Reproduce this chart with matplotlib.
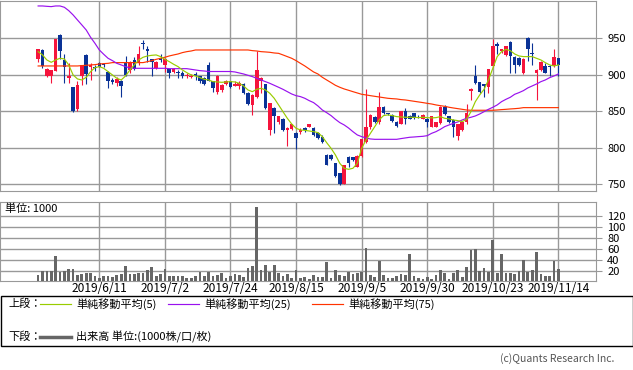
import numpy as np
import pandas as pd
import matplotlib
matplotlib.use("Agg")
import matplotlib.pyplot as plt
from matplotlib.patches import Rectangle

plt.rcParams['font.family'] = ['Noto Sans CJK JP', 'DejaVu Sans']

# -------------------------------
# data
# -------------------------------
holidays = ['2019-07-15', '2019-08-12', '2019-09-16', '2019-09-23',
            '2019-10-14', '2019-10-22', '2019-11-04']
dates = pd.bdate_range('2019-05-22', '2019-11-14')
dates = dates[~dates.isin(pd.to_datetime(holidays))]

open_ = [922, 934, 898, 898, 905, 955, 920, 896, 883, 853,
         899, 927, 911, 911, 916, 915, 904, 893, 889, 892,
         916, 907, 920, 916, 943, 935, 921, 909, 922, 914,
         908, 904, 904, 903, 898, 897, 901, 898, 895, 914,
         892, 876, 879, 887, 891, 885, 884, 888, 875, 859,
         869, 892, 887, 824, 855, 835, 840, 825, 826, 820,
         821, 827, 829, 827, 820, 815, 790, 790, 779, 765,
         751, 788, 787, 774, 789, 808, 828, 842, 835, 856,
         847, 845, 835, 833, 850, 844, 847, 844, 840, 840,
         829, 829, 834, 856, 843, 838, 816, 824, 835, 878,
         898, 890, 887, 883, 912, 942, 932, 927, 945, 925,
         923, 903, 950, 930, 902, 906, 912, 912, 912, 923]
high = [936, 935, 909, 907, 949, 956, 929, 916, 883, 892,
        914, 928, 916, 914, 918, 916, 905, 896, 897, 893,
        926, 919, 925, 939, 948, 939, 922, 919, 928, 923,
        908, 909, 906, 905, 902, 901, 904, 899, 897, 917,
        892, 900, 887, 893, 892, 891, 891, 889, 876, 873,
        932, 897, 888, 862, 856, 843, 841, 828, 833, 821,
        827, 828, 833, 829, 821, 818, 791, 791, 779, 766,
        777, 789, 788, 790, 812, 880, 846, 843, 876, 857,
        848, 846, 837, 850, 854, 845, 848, 845, 846, 841,
        843, 835, 857, 859, 844, 839, 833, 835, 860, 882,
        914, 890, 888, 908, 949, 945, 936, 940, 946, 926,
        924, 923, 952, 944, 908, 919, 916, 913, 935, 923]
low = [917, 909, 897, 889, 905, 921, 889, 889, 849, 851,
       886, 888, 893, 905, 910, 911, 882, 888, 884, 869,
       899, 902, 906, 914, 936, 917, 899, 908, 918, 904,
       895, 903, 895, 895, 895, 895, 893, 889, 886, 891,
       877, 874, 877, 886, 882, 884, 880, 874, 858, 845,
       868, 875, 853, 818, 820, 833, 823, 802, 825, 799,
       819, 822, 828, 816, 812, 807, 776, 783, 760, 749,
       750, 773, 782, 773, 788, 807, 826, 834, 833, 846,
       845, 836, 829, 832, 833, 839, 840, 841, 839, 829,
       828, 828, 832, 845, 834, 815, 811, 823, 833, 866,
       888, 875, 870, 875, 911, 929, 930, 926, 902, 902,
       912, 901, 919, 914, 865, 905, 902, 898, 911, 898]
close = [935, 912, 908, 907, 949, 933, 911, 898, 850, 886,
         913, 901, 914, 909, 911, 913, 891, 890, 894, 885,
         900, 918, 908, 929, 942, 933, 917, 918, 920, 921,
         903, 908, 902, 898, 900, 899, 898, 891, 888, 892,
         882, 899, 886, 892, 883, 888, 889, 875, 860, 872,
         907, 895, 854, 862, 844, 843, 824, 827, 832, 814,
         825, 824, 833, 818, 813, 808, 777, 784, 762, 751,
         777, 779, 783, 789, 812, 828, 845, 835, 856, 847,
         846, 837, 830, 850, 840, 840, 841, 843, 845, 835,
         843, 835, 856, 846, 835, 829, 833, 835, 847, 881,
         889, 876, 884, 908, 940, 940, 935, 939, 926, 914,
         914, 922, 936, 929, 907, 918, 903, 910, 924, 914]

ma5 = [931.7, 927.2, 920.3, 917.1, 920.3, 922.6, 921.7, 913.5, 899.8, 894.3,
       892.9, 896.6, 904.3, 909.8, 911.2, 908.9, 904.3, 899.8, 895.2, 892.9,
       898.4, 906.6, 913.5, 920.3, 924.0, 925.8, 926.7, 927.2, 924.9, 921.2,
       918.0, 914.4, 911.2, 906.6, 903.0, 899.8, 898.4, 896.1, 893.8, 892.9,
       890.6, 890.2, 889.7, 890.2, 890.6, 890.2, 888.3, 884.7, 879.2, 876.9,
       880.1, 881.5, 879.2, 874.6, 867.8, 858.7, 849.5, 840.4, 832.6, 826.7,
       824.4, 823.9, 823.0, 822.1, 820.8, 815.3, 807.0, 799.3, 790.2, 778.7,
       771.9, 770.5, 771.9, 778.7, 799.3, 810.7, 819.8, 829.0, 838.1, 844.1,
       845.0, 844.1, 842.7, 842.2, 841.8, 841.8, 841.8, 841.3, 841.8, 841.3,
       840.9, 841.3, 842.7, 840.4, 839.5, 838.1, 837.2, 835.8, 839.0, 849.5,
       863.2, 872.4, 880.1, 892.9, 908.9, 924.9, 931.7, 934.9, 933.1, 928.5,
       925.8, 924.9, 924.9, 924.9, 922.6, 920.3, 916.7, 913.5, 912.1, 913.5]
ma25 = [994.3, 994.3, 993.8, 993.4, 994.3, 994.3, 992.5, 987.9, 982.0, 975.1,
        968.3, 961.4, 951.4, 943.1, 934.0, 928.1, 922.6, 919.4, 915.7, 913.5,
        911.2, 909.4, 908.9, 908.9, 908.9, 908.9, 908.9, 908.9, 908.9, 908.9,
        908.4, 908.4, 908.4, 908.4, 908.4, 907.5, 906.6, 905.7, 905.2, 904.5,
        904.5, 904.5, 904.5, 904.5, 904.5, 903.9, 902.5, 901.1, 899.3, 897.5,
        895.2, 892.9, 890.6, 888.3, 885.6, 882.9, 880.1, 876.9, 873.7, 871.4,
        870.1, 867.8, 864.6, 861.9, 857.3, 851.8, 848.1, 844.1, 839.0, 834.5,
        831.3, 827.1, 822.1, 817.6, 815.3, 813.5, 812.1, 811.6, 811.6, 811.6,
        811.6, 811.6, 811.6, 812.6, 813.5, 814.4, 814.8, 815.3, 815.7, 816.6,
        819.8, 822.1, 825.3, 829.0, 831.3, 833.5, 835.4, 838.1, 840.4, 841.8,
        843.6, 846.3, 849.5, 852.7, 855.5, 858.7, 863.2, 866.4, 869.2, 873.3,
        875.6, 878.3, 882.0, 884.7, 887.4, 890.6, 892.9, 896.1, 898.4, 901.1]
ma75 = [912.1, 912.1, 912.1, 912.1, 912.1, 912.1, 912.1, 912.1, 912.1, 912.1,
        912.6, 913.0, 913.5, 913.9, 914.8, 915.3, 915.7, 916.7, 916.7, 916.7,
        916.7, 916.7, 916.7, 916.7, 916.7, 918.0, 919.4, 921.2, 922.6, 924.0,
        925.8, 927.2, 928.5, 930.4, 931.7, 932.6, 934.0, 934.0, 934.0, 934.0,
        934.0, 934.0, 934.0, 934.0, 934.0, 934.0, 934.0, 934.0, 934.0, 933.1,
        932.6, 931.7, 931.3, 930.8, 929.9, 929.4, 927.2, 924.9, 922.6, 919.4,
        915.7, 912.1, 908.0, 903.9, 901.1, 896.6, 892.9, 889.3, 885.6, 882.9,
        880.6, 878.8, 876.9, 875.1, 873.3, 872.4, 871.4, 870.5, 869.6, 868.7,
        867.8, 867.3, 866.9, 866.0, 865.5, 864.6, 863.7, 862.8, 861.9, 860.9,
        860.0, 858.7, 857.7, 856.8, 855.5, 854.5, 853.6, 852.7, 851.8, 851.4,
        851.4, 851.4, 851.4, 851.4, 851.4, 851.8, 852.3, 852.7, 853.2, 853.6,
        854.1, 855.0, 855.0, 855.0, 855.0, 855.0, 855.0, 855.0, 855.0, 855.0]

volume = [12, 19.4, 19.4, 19.4, 46.8, 17.6, 20, 23, 23, 12.7,
          14.5, 15.7, 16.3, 10.2, 7.2, 10.2, 10.2, 9, 12, 13.3,
          28.5, 13.3, 14.5, 15.7, 15.7, 21.2, 26.7, 10.2, 13.3, 23,
          10.2, 10.2, 10.2, 10.2, 7.2, 6, 10.2, 17.6, 10.2, 17.6,
          10.2, 12, 15, 7.2, 10.2, 13.3, 12, 9, 25.5, 28.5,
          136.5, 21.2, 30.4, 18.2, 30.4, 16.3, 10.2, 13.9, 7.2, 21.2,
          7.2, 9, 5.4, 12, 9, 8.4, 35.9, 6.6, 21.2, 11.5,
          10.2, 17.6, 14.5, 16.3, 17.6, 60.9, 12, 8.4, 37, 12,
          6, 6, 10.2, 13.3, 12, 50.5, 10.2, 7.2, 5.4, 9,
          5.4, 12, 21.2, 15.7, 5.4, 15.7, 21.2, 9, 26.7, 57.8,
          60.3, 19.4, 24.9, 18.2, 76.1, 15.7, 50.5, 15.7, 15.7, 13.9,
          19.4, 40.1, 17.6, 21.2, 54.2, 13.9, 10.2, 10.2, 37.7, 23]

tick_dates = ['2019-06-11', '2019-07-02', '2019-07-24', '2019-08-15',
              '2019-09-05', '2019-09-30', '2019-10-23', '2019-11-14']
tick_labels = ['2019/6/11', '2019/7/2', '2019/7/24', '2019/8/15',
               '2019/9/5', '2019/9/30', '2019/10/23', '2019/11/14']
price_ticks = [750, 800, 850, 900, 950]
vol_ticks = [20, 40, 60, 80, 100, 120]

# -------------------------------
# styles
# -------------------------------
W, H = 633, 370
RED = '#f5143c'
BLUE = '#0a3296'
GRID = '#999999'
C5, C25, C75 = '#99cc00', '#9911ee', '#ff3300'


def frac(x0, y0, x1, y1):
    # pixel box -> figure fraction
    return [x0 / W, 1 - y1 / H, (x1 - x0) / W, (y1 - y0) / H]


x = np.arange(len(dates))
o, h, l, c = map(np.array, (open_, high, low, close))
tick_idx = [dates.get_loc(pd.Timestamp(d)) for d in tick_dates]

fig = plt.figure(figsize=(W / 100, H / 100), dpi=100)

# -------------------------------
# price panel
# -------------------------------
ax = fig.add_axes(frac(0, 1, 596, 190.7))
colors = np.where(c >= o, RED, BLUE)
ax.vlines(x, l, h, colors=colors, lw=0.8, zorder=2)
ax.bar(x, np.maximum(np.abs(c - o), 0.8), bottom=np.minimum(o, c),
       width=0.82, color=colors, lw=0, zorder=3)
ax.plot(x, ma75, color=C75, lw=0.85, zorder=4)
ax.plot(x, ma25, color=C25, lw=0.85, zorder=4)
ax.plot(x, ma5, color=C5, lw=0.85, zorder=4)

ax.set_xlim(-8.72, 127.6)
ax.set_ylim(741.2, 1001.1)
ax.set_xticks(tick_idx)
ax.set_yticks(price_ticks)
ax.yaxis.tick_right()
ax.tick_params(axis='x', length=0, labelbottom=False)
ax.tick_params(axis='y', length=4, color=GRID, labelsize=8, pad=4)
ax.grid(color=GRID, lw=1)
ax.set_axisbelow(True)
for s in ax.spines.values():
    s.set_color(GRID)

# -------------------------------
# volume panel
# -------------------------------
av = fig.add_axes(frac(0, 201.5, 596, 280.5))
av.bar(x, volume, width=0.62, color='#666666', lw=0, zorder=3)
av.set_xlim(-8.72, 127.6)
av.set_ylim(2, 146.5)
av.set_xticks(tick_idx)
av.set_xticklabels(tick_labels)
av.set_yticks(vol_ticks)
av.yaxis.tick_right()
av.tick_params(axis='x', length=0, labelsize=8.6, pad=1)
av.tick_params(axis='y', length=4, color=GRID, labelsize=8, pad=4)
av.grid(color=GRID, lw=1)
av.set_axisbelow(True)
for s in av.spines.values():
    s.set_color(GRID)

# -------------------------------
# legend + notes (pixel coords)
# -------------------------------
ov = fig.add_axes([0, 0, 1, 1], zorder=10)
ov.set_xlim(0, W)
ov.set_ylim(H, 0)
ov.axis('off')
ov.patch.set_alpha(0)

ov.text(5, 209, '単位: 1000', fontsize=8, va='center', ha='left')

ov.add_patch(Rectangle((0.5, 296.3), 632, 50, fill=False, ec='black', lw=1))
ov.text(8, 303.7, '上段：', fontsize=8, va='center')
for x0, col, lab in [(40, C5, '単純移動平均(5)'), (168, C25, '単純移動平均(25)'),
                     (312, C75, '単純移動平均(75)')]:
    ov.plot([x0, x0 + 31], [303.7, 303.7], color=col, lw=0.85)
    ov.text(x0 + 36, 303.7, lab, fontsize=8, va='center')
ov.text(8, 337, '下段：', fontsize=8, va='center')
ov.plot([40, 71], [337, 337], color='#666666', lw=2.5)
ov.text(76, 337, '出来高 単位:(1000株/口/枚)', fontsize=8, va='center')

ov.text(614, 358.5, '(c)Quants Research Inc.', fontsize=7.5, color='#555555',
        va='center', ha='right')

fig.savefig('out.png', dpi=100)
